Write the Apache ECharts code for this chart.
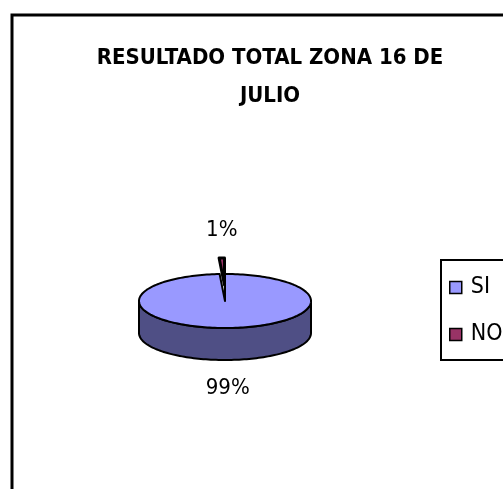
<!DOCTYPE html>
<html>
<head>
<meta charset="utf-8">
<script src="https://cdn.jsdelivr.net/npm/echarts@6/dist/echarts.min.js"></script>
<style>
  html, body { margin: 0; padding: 0; background: #fff; }
  #chart { width: 503px; height: 489px; }
</style>
</head>
<body>
<div id="chart"></div>
<script>
// data
const categories = ['SI', 'NO'];
const values = [99, 1];
const pctLabels = ['99%', '1%'];

const topColors = ['#9999FF', '#993366'];
const sideColors = ['#4F4F85', '#5C1F3D'];
const explode = [0, 16];

const FONT = '"Liberation Sans Narrow", "Arial Narrow", "DejaVu Sans Condensed", sans-serif';

// ellipse geometry for the flat 3d pie
const cx = 225, cy = 301, rx = 86, ry = 27, depth = 32;

const total = values.reduce((a, b) => a + b, 0);

function pt(t, ox, oy) {
    return [cx + ox + rx * Math.sin(t), cy + oy - ry * Math.cos(t)];
}

function arc(a0, a1, ox, oy) {
    const pts = [];
    const n = Math.max(2, Math.ceil((a1 - a0) / 0.03));
    for (let k = 0; k <= n; k++) {
        pts.push(pt(a0 + (a1 - a0) * k / n, ox, oy));
    }
    return pts;
}

function makeRender(i) {
    return function (params, api) {
        let before = 0;
        for (let j = 0; j < i; j++) before += values[j];
        const v = api.value(0);
        const a0 = before / total * Math.PI * 2;
        const a1 = (before + v) / total * Math.PI * 2;
        const mid = (a0 + a1) / 2;
        const ox = explode[i] * Math.sin(mid);
        const oy = -explode[i] * Math.cos(mid);
        const children = [];

        // front wall
        const s0 = Math.max(a0, Math.PI / 2), s1 = Math.min(a1, Math.PI * 1.5);
        if (s1 > s0) {
            const upper = arc(s0, s1, ox, oy);
            const lower = arc(s0, s1, ox, oy + depth).reverse();
            children.push({
                type: 'polygon',
                shape: { points: upper.concat(lower) },
                style: { fill: sideColors[i], stroke: '#000', lineWidth: 2, lineJoin: 'round' }
            });
        }

        // top face
        const top = [[cx + ox, cy + oy]].concat(arc(a0, a1, ox, oy));
        children.push({
            type: 'polygon',
            shape: { points: top },
            style: { fill: topColors[i], stroke: '#000', lineWidth: v / total < 0.05 ? 3 : 2, lineJoin: 'round' }
        });

        // percentage label
        const front = Math.cos(mid) < 0;
        const lx = cx + ox + rx * Math.sin(mid);
        const ly = cy + oy - (ry + 28) * Math.cos(mid) + (front ? depth : 0);
        children.push({
            type: 'text',
            style: {
                text: pctLabels[i], x: lx, y: ly,
                align: 'center', verticalAlign: 'middle',
                font: '22px ' + FONT, fill: '#000'
            }
        });

        return { type: 'group', children: children };
    };
}

const series = categories.map((name, i) => ({
    name: name,
    type: 'custom',
    coordinateSystem: 'none',
    z: i === 0 ? 3 : 2,
    itemStyle: { color: topColors[i] },
    renderItem: makeRender(i),
    data: [values[i]],
    animation: false
}));

const chart = echarts.init(document.getElementById('chart'));
chart.setOption({
    backgroundColor: '#fff',
    animation: false,
    title: {
        text: 'RESULTADO TOTAL ZONA 16 DE\nJULIO',
        left: 265,
        top: 34,
        textAlign: 'center',
        textStyle: {
            fontFamily: FONT,
            fontWeight: 'bold',
            fontSize: 22,
            lineHeight: 38,
            color: '#000'
        }
    },
    legend: {
        data: categories,
        orient: 'vertical',
        left: 441,
        top: 260,
        padding: [16, 30, 14, 8],
        itemGap: 24,
        itemWidth: 12,
        itemHeight: 12,
        icon: 'rect',
        borderColor: '#000',
        borderWidth: 2,
        borderRadius: 0,
        itemStyle: { borderColor: '#000', borderWidth: 1.5 },
        textStyle: { fontFamily: FONT, fontSize: 23, color: '#000', padding: [0, 0, 0, 4] },
        selectedMode: false
    },
    graphic: [{
        type: 'rect',
        z: -1,
        shape: { x: 12, y: 15, width: 560, height: 540 },
        style: { fill: 'none', stroke: '#000', lineWidth: 3 }
    }],
    series: series
});
</script>
</body>
</html>
